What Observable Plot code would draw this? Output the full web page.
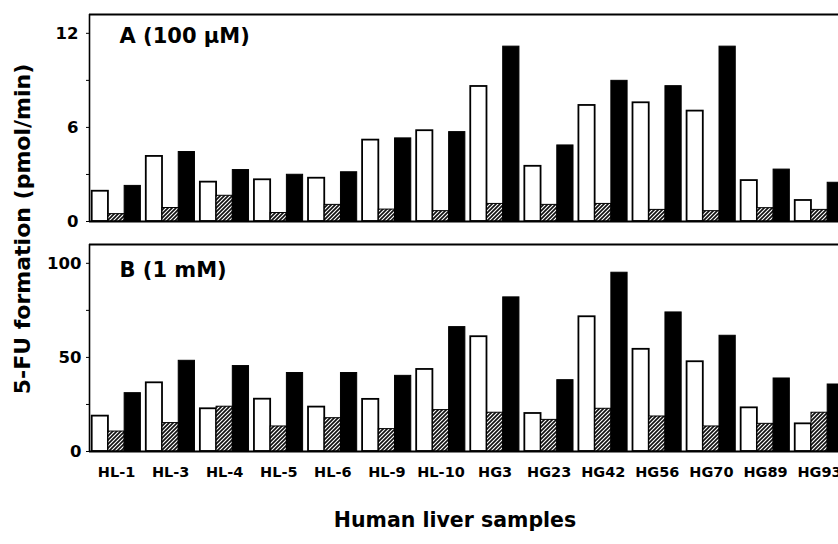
<!DOCTYPE html>
<html>
<head>
<meta charset="utf-8">
<script src="https://cdn.jsdelivr.net/npm/d3@7"></script>
<script src="https://cdn.jsdelivr.net/npm/@observablehq/plot@0.6"></script>
<style>
  html, body { margin: 0; padding: 0; background: white; overflow: hidden; }
  #wrap { position: relative; width: 838px; height: 544px; overflow: hidden; background: white; }
  #wrap svg { position: absolute; left: 0; }
  .title { position: absolute; font-family: "DejaVu Sans", sans-serif; font-weight: bold; color: black; white-space: nowrap; }
</style>
</head>
<body>
<div id="wrap"></div>
<script>
// ---- data ----
const samples = ["HL-1","HL-3","HL-4","HL-5","HL-6","HL-9","HL-10","HG3","HG23","HG42","HG56","HG70","HG89","HG93"];
const seriesNames = ["open", "hatched", "solid"];

// Panel A (100 µM), pmol/min
const aOpen    = [1.93, 4.15, 2.51, 2.66, 2.76, 5.19, 5.79, 8.61, 3.52, 7.40, 7.57, 7.04, 2.61, 1.34];
const aHatched = [0.47, 0.86, 1.64, 0.54, 1.06, 0.76, 0.66, 1.12, 1.06, 1.12, 0.74, 0.66, 0.85, 0.74];
const aSolid   = [2.27, 4.43, 3.28, 2.98, 3.14, 5.30, 5.70, 11.15, 4.85, 8.97, 8.63, 11.15, 3.31, 2.47];

// Panel B (1 mM), pmol/min
const bOpen    = [18.8, 36.5, 22.7, 27.8, 23.6, 27.7, 43.6, 61.0, 20.2, 71.6, 54.3, 47.7, 23.2, 14.7];
const bHatched = [10.6, 15.1, 23.8, 13.3, 17.7, 11.9, 22.0, 20.6, 16.8, 22.7, 18.6, 13.3, 14.7, 20.6];
const bSolid   = [31.0, 48.2, 45.4, 41.7, 41.7, 40.2, 66.1, 81.9, 37.9, 95.0, 73.9, 61.5, 38.8, 35.6];

const aTicks = [0, 3, 6, 9, 12];
const aLabeled = [0, 6, 12];
const bTicks = [0, 25, 50, 75, 100];
const bLabeled = [0, 50, 100];

// ---- build table: each bar occupies a third of the group slot ----
function table(open, hatched, solid) {
  const rows = [];
  [open, hatched, solid].forEach((vals, k) => {
    vals.forEach((v, i) => {
      rows.push({sample: samples[i], series: seriesNames[k], i, x1: i - 0.45 + k * 0.3, x2: i - 0.15 + k * 0.3, value: v});
    });
  });
  return rows;
}

function addHatch(svg, id) {
  const defs = d3.select(svg).insert("defs", ":first-child");
  const p = defs.append("pattern").attr("id", id).attr("patternUnits", "userSpaceOnUse")
    .attr("width", 4).attr("height", 4);
  p.append("rect").attr("width", 4).attr("height", 4).attr("fill", "white");
  p.append("path").attr("d", "M-1,1 l2,-2 M0,4 l4,-4 M3,5 l2,-2")
    .attr("stroke", "#111").attr("stroke-width", 1.7);
}

function panel({open, hatched, solid, yMax, ticks, labeled, tickPadding, label, labelDy, height, marginTop, marginBottom, showX, hatchId}) {
  const rows = table(open, hatched, solid);
  const marks = [
    Plot.rectY(rows.filter(d => d.series === "open"), {x1: "x1", x2: "x2", y1: 0, y2: "value", fill: "white", stroke: "black", strokeWidth: 1.8}),
    Plot.rectY(rows.filter(d => d.series === "hatched"), {x1: "x1", x2: "x2", y1: 0, y2: "value", fill: `url(#${hatchId})`, stroke: "black", strokeWidth: 1}),
    Plot.rectY(rows.filter(d => d.series === "solid"), {x1: "x1", x2: "x2", y1: 0, y2: "value", fill: "black", stroke: "black", strokeWidth: 1}),
    Plot.ruleY([0], {stroke: "black", strokeWidth: 2}),
    Plot.ruleY([yMax], {stroke: "black", strokeWidth: 2}),
    Plot.ruleX([-0.5], {stroke: "black", strokeWidth: 1.6}),
    Plot.axisY({ticks, tickFormat: d => labeled.includes(d) ? String(d) : "", tickSize: 3, tickPadding, fontSize: 16.5, label: null}),
    Plot.text([label], {frameAnchor: "top-left", dx: 30, dy: labelDy, fontSize: 21, fontWeight: "bold", fill: "black"})
  ];
  if (showX) {
    marks.push(Plot.axisX({ticks: d3.range(samples.length), tickFormat: i => samples[i], tickSize: 0, tickPadding: 15, fontSize: 14.5, label: null}));
  }
  const svg = Plot.plot({
    width: 838,
    height,
    marginLeft: 89,
    marginRight: 0,
    marginTop,
    marginBottom,
    style: {fontFamily: "DejaVu Sans, sans-serif", fontWeight: "bold", color: "black", background: "white"},
    x: {type: "linear", domain: [-0.5, 13.35], axis: showX ? undefined : null},
    y: {domain: [0, yMax]},
    marks
  });
  addHatch(svg, hatchId);
  return svg;
}

const wrap = document.getElementById("wrap");

const svgA = panel({open: aOpen, hatched: aHatched, solid: aSolid, yMax: 13.2, ticks: aTicks, labeled: aLabeled,
  tickPadding: 8, label: "A (100 µM)", labelDy: 14, height: 232, marginTop: 14, marginBottom: 11, showX: false, hatchId: "hatchA"});
svgA.style.top = "0px";
wrap.appendChild(svgA);

const svgB = panel({open: bOpen, hatched: bHatched, solid: bSolid, yMax: 110, ticks: bTicks, labeled: bLabeled,
  tickPadding: 5, label: "B (1 mM)", labelDy: 18, height: 270, marginTop: 12, marginBottom: 51, showX: true, hatchId: "hatchB"});
svgB.style.top = "232px";
wrap.appendChild(svgB);

// axis titles
const yt = document.createElement("div");
yt.className = "title";
yt.textContent = "5-FU formation (pmol/min)";
yt.style.fontSize = "22px";
yt.style.left = "22px";
yt.style.top = "229px";
yt.style.transform = "translate(-50%, -50%) rotate(-90deg)";
wrap.appendChild(yt);

const xt = document.createElement("div");
xt.className = "title";
xt.textContent = "Human liver samples";
xt.style.fontSize = "20.5px";
xt.style.left = "455px";
xt.style.top = "520px";
xt.style.transform = "translate(-50%, -50%)";
wrap.appendChild(xt);
</script>
</body>
</html>
